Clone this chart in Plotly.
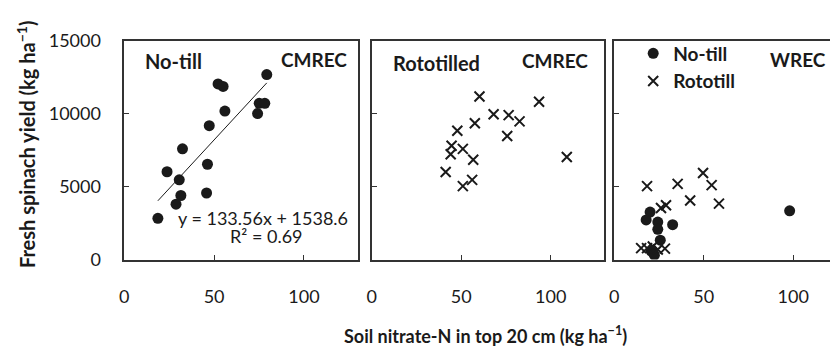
import plotly.graph_objects as go

# Soil nitrate-N (kg/ha) vs fresh spinach yield (kg/ha)
nt_cmrec_n = [79.3, 52.2, 55.0, 75.1, 78.2, 74.2, 56.0, 47.3, 32.4, 46.3, 23.8, 30.6, 31.5, 45.8, 28.8, 18.7]
nt_cmrec_yield = [12700, 12060, 11890, 10730, 10730, 10025, 10195, 9190, 7600, 6545, 6030, 5475, 4400, 4570, 3800, 2830]

rt_cmrec_n = [60.2, 93.5, 68.1, 76.5, 82.6, 57.6, 47.8, 75.7, 44.6, 44.1, 50.9, 56.7, 109.0, 41.3, 56.1, 50.9]
rt_cmrec_yield = [11200, 10840, 9980, 9915, 9485, 9360, 8840, 8480, 7810, 7230, 7600, 6850, 7040, 6010, 5475, 5045]

nt_wrec_n = [98.0, 20.0, 17.8, 24.3, 24.3, 32.6, 25.7, 20.6, 22.4]
nt_wrec_yield = [3350, 3260, 2725, 2575, 2080, 2400, 1330, 580, 300]

rt_wrec_n = [49.6, 18.3, 35.4, 54.4, 42.4, 58.5, 28.9, 26.1, 15.0, 18.3, 21.5, 24.3, 28.3]
rt_wrec_yield = [5945, 5045, 5195, 5110, 4055, 3840, 3735, 3540, 790, 790, 900, 690, 750]

# Linear trend for no-till CMREC
slope, intercept = 133.56, 1538.6
r_squared = 0.69

x_ticks = [0, 50, 100]
y_ticks = [0, 5000, 10000, 15000]

W, H = 830, 354
FONT = "Lato"
INK = "#1a1a1a"


def px(x):
    return x / W


def py(y):
    return (H - y) / H


fig = go.Figure()

dot = dict(symbol="circle", size=11, color=INK)
cross = dict(symbol="x-thin-open", size=10, color=INK, line=dict(width=2, color=INK))

fig.add_trace(go.Scatter(x=nt_cmrec_n, y=nt_cmrec_yield, mode="markers", marker=dot,
                         xaxis="x", yaxis="y", showlegend=False))
xs = [min(nt_cmrec_n), max(nt_cmrec_n)]
fig.add_trace(go.Scatter(x=xs, y=[slope * v + intercept for v in xs], mode="lines",
                         line=dict(color=INK, width=1), xaxis="x", yaxis="y", showlegend=False))
fig.add_trace(go.Scatter(x=rt_cmrec_n, y=rt_cmrec_yield, mode="markers", marker=cross,
                         xaxis="x2", yaxis="y2", showlegend=False))
fig.add_trace(go.Scatter(x=nt_wrec_n, y=nt_wrec_yield, mode="markers", marker=dot,
                         xaxis="x3", yaxis="y3", name="No-till"))
fig.add_trace(go.Scatter(x=rt_wrec_n, y=rt_wrec_yield, mode="markers", marker=cross,
                         xaxis="x3", yaxis="y3", name="Rototill"))

ydom = [py(264), py(31)]
xdoms = [[px(120), px(355)], [px(369), px(603)], [px(613), 1.0]]
xranges = [[0, 130], [0, 130], [0, (W - 613) / 1.8]]

axis_common = dict(showline=True, linecolor="#333", linewidth=1.5, showgrid=False,
                   zeroline=False, ticks="inside", ticklen=5, tickcolor="#333", tickwidth=1)

for i, name in enumerate(["", "2", "3"]):
    fig.layout["xaxis" + name] = dict(
        axis_common, domain=xdoms[i], range=xranges[i], anchor="y" + name,
        tickvals=x_ticks, ticktext=[str(t) for t in x_ticks], mirror=True,
        ticklabelstandoff=20, tickfont=dict(family=FONT, size=18, color=INK))
    fig.layout["yaxis" + name] = dict(
        axis_common, domain=ydom, range=[0, 15000], anchor="x" + name,
        tickvals=y_ticks, ticktext=[str(t) for t in y_ticks], showticklabels=(i == 0),
        mirror=(i < 2), ticklabelstandoff=18, tickfont=dict(family=FONT, size=18, color=INK))

ann = []


def label(text, x, y, size=19, bold=True, xanchor="left", **kw):
    t = f"<b>{text}</b>" if bold else text
    ann.append(dict(text=t, x=px(x), y=py(y), xref="paper", yref="paper", showarrow=False,
                    xanchor=xanchor, yanchor="middle",
                    font=dict(family=FONT, size=size, color=INK), **kw))


label("No-till", 139, 52, size=20)
label("CMREC", 346, 51, xanchor="right")
label("Rototilled", 388, 54, size=20)
label("CMREC", 589, 52, xanchor="right")
label("WREC", 828, 51, xanchor="right")
label(f"y = {slope}x + {intercept}", 260, 220, size=18, bold=False, xanchor="center")
label(f"R² = {r_squared}", 263, 239, size=18, bold=False, xanchor="center")
label("Soil nitrate-N in top 20 cm (kg ha<sup>−1</sup>)", 483, 344, size=18, xanchor="center")
label("Fresh spinach yield (kg ha<sup>−1</sup>)", 21, 141, size=20, xanchor="center", textangle=-90)

fig.update_layout(
    width=W, height=H, margin=dict(l=0, r=0, t=0, b=0),
    paper_bgcolor="white", plot_bgcolor="white",
    annotations=ann,
    legend=dict(x=px(632), y=py(24), xanchor="left", yanchor="top", itemwidth=30,
                bgcolor="rgba(0,0,0,0)", font=dict(family=FONT, size=19, color=INK, weight="bold"),
                tracegroupgap=0, itemclick=False),
    font=dict(family=FONT, color=INK),
)

fig.write_html("out.html")
